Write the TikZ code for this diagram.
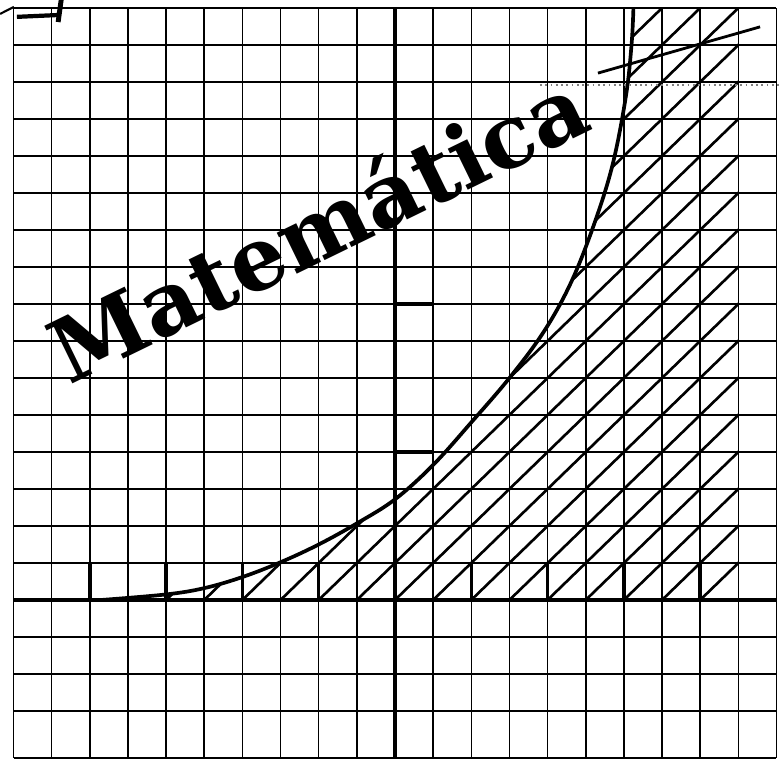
\documentclass[tikz,border=0pt]{standalone}
\usepackage{fontspec}
\newfontfamily\titlefont{DejaVu Serif}
\usetikzlibrary{calc}
\tikzset{gridline/.style={line width=0.9pt},
  axisline/.style={line width=2.2pt},
  tickline/.style={line width=2pt},
  hatch/.style={line width=1.5pt},
  curveline/.style={line width=2.1pt, line join=round}}
\begin{document}
\begin{tikzpicture}[x=0.763cm,y=0.74cm]
  \useasboundingbox (-10.354,-4.351) rectangle (10.118,16.216);
  \foreach \i in {-10,...,10}
    \draw[gridline] (\i,-4.27) -- (\i,16);
  \foreach \j in {-3,...,16}
    \draw[gridline] (-10,\j) -- (10,\j);
  \draw[gridline] (-10,-4.27) -- (10,-4.27);
  \draw[axisline] (-10,0) -- (10,0);
  \draw[axisline] (0,-4.27) -- (0,16);
  \foreach \i in {-8,-6,-4,-2,2,4,6,8}
    \draw[tickline] (\i,0) -- (\i,1);
  \foreach \j in {4,8}
    \draw[tickline] (0,\j) -- (1,\j);
  \begin{scope}
    \clip plot[smooth,tension=0.6] coordinates {(-7.7,0) (-6,0.15)
      (-5,0.32) (-4,0.62) (-3,1.02) (-2,1.5) (-1,2.07) (0,2.72) (1,3.65)
      (2,4.8) (3,6) (3.9,7.25) (4.6,8.55) (5.2,10.1) (5.7,11.75)
      (6.05,13.6) (6.2,15) (6.25,16)} -- (9,16) -- (9,0) -- cycle;
    \foreach \k in {-9,...,8}
      \draw[hatch] (\k,0) -- ++(17,17);
  \end{scope}
  \draw[curveline] plot[smooth,tension=0.6] coordinates {(-7.7,0)
    (-6,0.15) (-5,0.32) (-4,0.62) (-3,1.02) (-2,1.5) (-1,2.07) (0,2.72)
    (1,3.65) (2,4.8) (3,6) (3.9,7.25) (4.6,8.55) (5.2,10.1) (5.7,11.75)
    (6.05,13.6) (6.2,15) (6.25,16)};
  \node[anchor=base west, inner sep=0pt, rotate=26,
    font=\titlefont\bfseries\fontsize{50}{50}\selectfont] (title)
    at (-8.55,5.8) {Matemática};
  \draw[line width=2.4pt] (-9.91,15.76) -- (-8.83,15.81);
  \draw[line width=2.8pt] (-8.75,16.22) -- (-8.83,15.62);
  \draw[line width=1.2pt] (-10.35,15.84) -- (-9.99,16.03);
  \draw[line width=1.6pt] (5.32,14.24) -- (9.57,15.49);
  \draw[gray, dotted, line width=1pt] (3.8,13.92) -- (10.1,13.92);
\end{tikzpicture}
\end{document}
